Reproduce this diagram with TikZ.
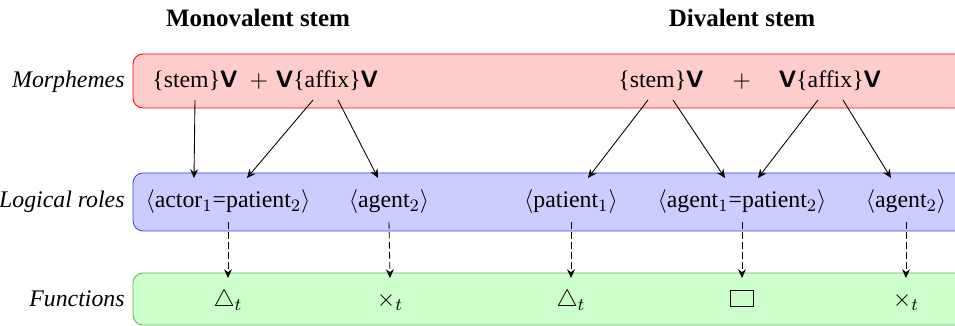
\documentclass[tikz,border=0pt,11pt]{standalone}
\usepackage{fontspec}
\setmainfont{Liberation Serif}
\usepackage{amsmath,amssymb}
\usetikzlibrary{arrows.meta,calc}
\definecolor{bandgreen}{RGB}{95,180,95}
\definecolor{bandblue}{RGB}{60,60,255}
\newcommand{\Vb}{\textsf{\bfseries V}}
\begin{document}
\begin{tikzpicture}[x=0.46pt,y=-0.46pt,
  txt/.style={anchor=base,inner sep=0pt},
  lab/.style={anchor=base east,inner sep=0pt,font=\itshape},
  ttl/.style={anchor=base,inner sep=0pt,font=\fontsize{11.5}{14}\selectfont\bfseries},
  arr/.style={-{Stealth[length=4pt,width=3.6pt]},black},
  darr/.style={arr,dash pattern=on 3pt off 1.6pt}]
\useasboundingbox (0,0) rectangle (955,326);
\clip (0,0) rectangle (955,326);
% bands
\draw[red, fill=red!20, rounded corners=4.6pt] (133,54) rectangle (985,108);
\draw[bandblue, fill=blue!20, rounded corners=4.6pt] (133,173) rectangle (985,231);
\draw[bandgreen, fill=green!20, rounded corners=4.6pt] (133,273) rectangle (985,325);
% titles
\node[ttl] (t1) at (258,27) {Monovalent stem};
\node[ttl] (t2) at (742,27) {Divalent stem};
% row labels
\node[lab] (l1) at (125,88) {Morphemes};
\node[lab] (l2) at (125,208) {Logical roles};
\node[lab] (l3) at (125,307) {Functions};
% morphemes
\node[txt] (m1) at (195,88) {\{stem\}\Vb};
\node[txt] (p1) at (259,88) {$+$};
\node[txt] (m2) at (327,88) {\Vb\{affix\}\Vb};
\node[txt] (m3) at (661,88) {\{stem\}\Vb};
\node[txt] (p2) at (742,88) {$+$};
\node[txt] (m4) at (830,88) {\Vb\{affix\}\Vb};
% logical roles
\node[txt] (r1) at (228,208) {$\langle$actor$_1$=patient$_2\rangle$};
\node[txt] (r2) at (389,208) {$\langle$agent$_2\rangle$};
\node[txt] (r3) at (571,208) {$\langle$patient$_1\rangle$};
\node[txt] (r4) at (742,208) {$\langle$agent$_1$=patient$_2\rangle$};
\node[txt] (r5) at (906,208) {$\langle$agent$_2\rangle$};
% functions
\node[txt] (f1) at (228,307) {$\triangle_t$};
\node[txt] (f2) at (390,307) {$\times_t$};
\node[txt] (f3) at (571,307) {$\triangle_t$};
\node[draw, black, line width=0.45pt, anchor=south, inner sep=0pt,
      minimum width=11pt, minimum height=7.3pt] (f4) at (742,307) {};
\node[txt] (f5) at (906,307) {$\times_t$};
% solid arrows
\draw[arr] ($(m1.base)+(0,12)$) -- ($(r1.base)+(-34,-30)$);
\draw[arr] ($(m2.base)+(-14,12)$) -- ($(r1.base)+(19,-30)$);
\draw[arr] ($(m2.base)+(11,12)$) -- ($(r2.base)+(-11,-30)$);
\draw[arr] ($(m3.base)+(-13,12)$) -- ($(r3.base)+(17,-30)$);
\draw[arr] ($(m3.base)+(12,12)$) -- ($(r4.base)+(-17,-30)$);
\draw[arr] ($(m4.base)+(-12,12)$) -- ($(r4.base)+(16,-30)$);
\draw[arr] ($(m4.base)+(13,12)$) -- ($(r5.base)+(-15,-30)$);
% dashed arrows
\draw[darr] ($(r1.base)+(0,14)$) -- ($(f1.base)+(0,-29)$);
\draw[darr] ($(r2.base)+(0,14)$) -- ($(f2.base)+(0,-29)$);
\draw[darr] ($(r3.base)+(0,14)$) -- ($(f3.base)+(0,-29)$);
\draw[darr] ($(r4.base)+(0,14)$) -- ($(f4.south)+(0,-29)$);
\draw[darr] ($(r5.base)+(0,14)$) -- ($(f5.base)+(0,-29)$);
\end{tikzpicture}
\end{document}
